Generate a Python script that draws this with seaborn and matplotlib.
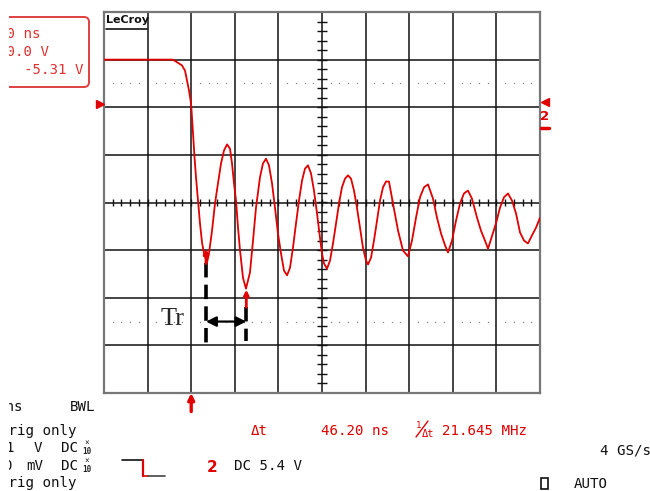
import numpy as np
import pandas as pd
import matplotlib
matplotlib.use("Agg")
import matplotlib.pyplot as plt
from matplotlib.patches import FancyBboxPatch, Rectangle
import seaborn as sns

# scope trace: time in ns (50 ns/div), level in divisions
trace_t = [-250, -171, -160.6, -157.1, -154.8, -152.5, -150.2, -149.1, -147.9, -146.2,
           -144.5, -142.2, -139.9, -137.6, -135.3, -131.9, -129.6, -126.1, -122.7, -119.3,
           -115.8, -112.4, -108.9, -105.5, -103.2, -100.9, -98.6, -96.3, -94.0, -90.6,
           -87.2, -82.6, -79.1, -75.7, -71.1, -67.7, -64.2, -60.8, -57.3, -53.9,
           -50.5, -47.0, -43.6, -40.1, -36.7, -33.3, -29.8, -26.4, -22.9, -19.5,
           -16.1, -12.6, -9.2, -5.7, -2.3, 0, 2.3, 5.7, 9.2, 12.6,
           16.1, 19.5, 22.9, 26.4, 29.8, 33.3, 36.7, 40.1, 43.6, 47.0,
           50.5, 52.8, 56.2, 59.6, 63.1, 66.5, 70.0, 73.4, 76.8, 81.4,
           87.2, 92.9, 98.6, 103.2, 107.8, 112.4, 117.0, 121.6, 127.3, 131.9,
           136.5, 141.1, 144.5, 149.1, 153.7, 158.3, 162.8, 167.4, 172.0, 177.8,
           182.3, 186.9, 190.4, 199.5, 204.1, 208.7, 213.3, 217.9, 222.5, 227.1,
           231.7, 236.2, 240.8, 245.4, 250.0]
trace_v = [3.0, 3.0, 2.88, 2.77, 2.56, 2.35, 2.08, 1.79, 1.45, 0.95,
           0.53, 0.04, -0.44, -0.84, -1.07, -1.26, -1.07, -0.59, -0.02, 0.40,
           0.82, 1.09, 1.22, 1.13, 0.82, 0.40, 0.04, -0.53, -1.01, -1.58,
           -1.81, -1.47, -0.80, -0.11, 0.53, 0.82, 0.92, 0.78, 0.40, -0.11,
           -0.65, -1.07, -1.43, -1.53, -1.37, -0.95, -0.44, 0.04, 0.46, 0.71,
           0.78, 0.61, 0.25, -0.23, -0.74, -1.07, -1.28, -1.39, -1.22, -0.86,
           -0.44, -0.02, 0.32, 0.50, 0.57, 0.50, 0.25, -0.11, -0.53, -0.95,
           -1.22, -1.30, -1.16, -0.80, -0.38, 0.04, 0.32, 0.44, 0.44, -0.02,
           -0.59, -1.01, -1.13, -0.80, -0.32, 0.11, 0.32, 0.38, 0.08, -0.32,
           -0.65, -0.90, -1.05, -0.80, -0.38, -0.02, 0.19, 0.25, 0.08, -0.32,
           -0.59, -0.80, -0.97, -0.44, -0.11, 0.11, 0.19, 0.04, -0.23, -0.63,
           -0.80, -0.86, -0.69, -0.53, -0.32]

# cursors (Tr measurement) and trigger
cursor_t = [-133.0, -86.8]
cursor_tip = [-0.97, -1.83]
cursor_tail = [-1.28, -2.2]
dash_bottom = [-3.0, -2.9]
trigger_t = -150
delta_t = "46.20 ns"
inv_delta_t = "21.645 MHz"

RED = "#e00000"
MONO = "DejaVu Sans Mono"

sns.set_style("white")
plt.rcParams["font.family"] = ["DejaVu Sans"]

fig = plt.figure(figsize=(6.5, 4.91), dpi=100)
ax = fig.add_axes([104 / 650, 1 - 393 / 491, 436 / 650, 381 / 491])

ax.set_xlim(-250, 250)
ax.set_ylim(-4, 4)
ax.set_xticks(np.arange(-250, 251, 50))
ax.set_yticks(np.arange(-4, 5, 1))
ax.grid(True, color="#111111", lw=1.1)
ax.tick_params(length=0, labelbottom=False, labelleft=False)
for sp in ax.spines.values():
    sp.set_color("#777777")
    sp.set_linewidth(1.6)

# small ticks along the centre lines
ax.vlines(np.arange(-240, 250, 10), -0.065, 0.065, color="#111111", lw=1.0)
ax.hlines(np.arange(-3.8, 3.9, 0.2), -5.7, 5.7, color="#111111", lw=1.0)

# dotted rows at +/-2.5 div
dot_x = [x for x in np.arange(-240, 250, 10) if x % 50 != 0]
for yy in (2.5, -2.5):
    ax.scatter(dot_x, [yy] * len(dot_x), s=1.0, color="#888888", linewidths=0)

sns.lineplot(x=trace_t, y=trace_v, sort=False, estimator=None, color=RED,
             lw=1.3, ax=ax, zorder=5, solid_joinstyle="round")

# Tr annotation
for t, tip, tail, bot in zip(cursor_t, cursor_tip, cursor_tail, dash_bottom):
    ax.plot([t, t], [tail, bot], color="black", lw=2.6, ls=(0, (4, 2)), zorder=6)
    ax.annotate("", xy=(t, tip), xytext=(t, tail),
                arrowprops=dict(arrowstyle="-|>", color=RED, lw=2, mutation_scale=7,
                                shrinkA=0, shrinkB=0), zorder=7)
ax.annotate("", xy=(cursor_t[0], -2.5), xytext=(cursor_t[1], -2.5),
            arrowprops=dict(arrowstyle="<|-|>", color="black", lw=1.6,
                            mutation_scale=15, shrinkA=0, shrinkB=0), zorder=7)
ax.text(-185.5, -2.58, "Tr", family="Liberation Serif", fontsize=19,
        ha="left", va="baseline", zorder=7)

# trigger arrow under the grid
ax.annotate("", xy=(trigger_t, -4.0), xytext=(trigger_t, -4.39),
            arrowprops=dict(arrowstyle="-|>", color=RED, lw=2.4, mutation_scale=9,
                            shrinkA=0, shrinkB=0), annotation_clip=False)

# screen overlay in pixel units, clipped at the left edge like the capture
ov = fig.add_axes([9 / 650, 0, 641 / 650, 1])
ov.set_xlim(9, 650)
ov.set_ylim(491, 0)
ov.axis("off")

def txt(x, y, s, color="#111111", size=10.2, family=MONO, weight="normal"):
    ov.text(x, y, s, color=color, fontsize=size, family=family, weight=weight,
            ha="left", va="center", clip_on=True)

# LeCroy logo
txt(106, 20, "LeCroy", size=8, family="DejaVu Sans", weight="bold")
ov.plot([106, 147], [29, 29], color="#111111", lw=1.2)

# top-left readout box
ov.add_patch(FancyBboxPatch((-20, 17), 109, 70, boxstyle="round,pad=0,rounding_size=5",
                            fill=False, ec="#e04040", lw=1.4))
txt(-2.5, 34, "50 ns", color="#e03030")
txt(-2.5, 52, "10.0 V", color="#e03030")
txt(24.5, 70, "-5.31 V", color="#e03030")

# channel markers
ov.plot([100], [104], marker=">", color=RED, ms=6, clip_on=False)
ov.plot([545], [102], marker="<", color=RED, ms=6, clip_on=False)
ov.text(545, 116, "2", color=RED, fontsize=9.5, weight="bold", ha="center",
        va="center", clip_on=False)
ov.plot([541, 549], [127.5, 127.5], color=RED, lw=2.5, clip_on=False)

# bottom status lines
txt(-19.5, 407, "50 ns")
txt(70, 407, "BWL")
txt(-0.5, 431, "Trig only")
txt(-0.5, 483, "Trig only")
txt(5.5, 448, "1")
txt(34, 448, "V")
txt(3.5, 466, "0")
txt(26, 466, "mV")
for yy in (448, 466):
    txt(61, yy, "DC")
    ov.text(87, yy - 5, "×", fontsize=5.5, family=MONO, ha="center", va="center")
    ov.text(87, yy + 3, "10", fontsize=5.5, family=MONO, weight="bold",
            ha="center", va="center")

txt(251, 431, "Δt", color=RED)
txt(321, 431, delta_t, color=RED)
ov.text(419, 425, "1", color=RED, fontsize=6.5, family=MONO, ha="center", va="center")
ov.plot([416, 428], [437, 421], color=RED, lw=1.0)
ov.text(428, 434, "Δt", color=RED, fontsize=7.5, family=MONO, ha="center", va="center")
txt(442, 431, inv_delta_t, color=RED)

txt(600, 450, "4 GS/s")

# coupling step symbol, channel 2 readout
ov.plot([122, 143], [460, 460], color="#111111", lw=1.2)
ov.plot([143, 143], [460, 476], color=RED, lw=1.6)
ov.plot([143, 148], [476, 476], color=RED, lw=1.2)
ov.plot([148, 165], [476, 476], color="#444444", lw=1.2)
ov.text(207, 467, "2", color=RED, fontsize=11, weight="bold", family="DejaVu Sans",
        ha="left", va="center")
txt(234, 466, "DC 5.4 V")

ov.add_patch(Rectangle((541, 478), 7, 11, fill=False, ec="#111111", lw=1.2))
txt(574, 484, "AUTO")

fig.savefig("out.png", dpi=100, facecolor="white")
